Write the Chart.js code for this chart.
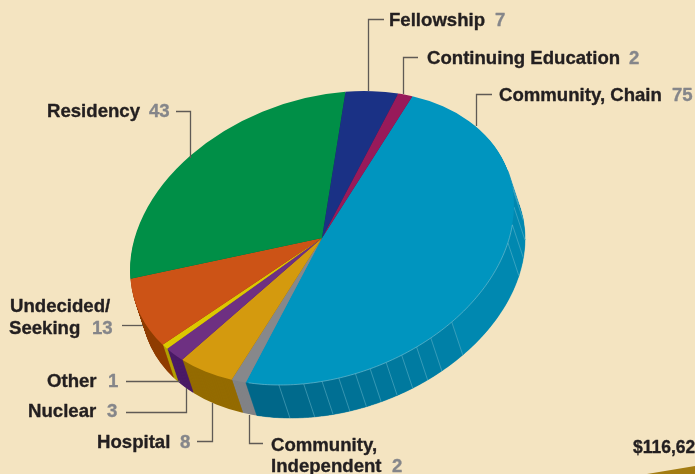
<!DOCTYPE html>
<html><head><meta charset="utf-8">
<style>html,body{margin:0;padding:0;background:#f4e4c1;overflow:hidden}canvas{display:block}</style>
<script src="https://cdn.jsdelivr.net/npm/chart.js@4"></script>
</head><body><canvas id="c" width="695" height="474"></canvas>
<script>
const categories = ["Community, Chain","Community, Independent","Hospital","Nuclear","Other","Undecided/Seeking","Residency","Fellowship","Continuing Education"];
const values = [75,2,8,3,1,13,43,7,2];
const topColors = ["#0095bf","#87888b","#d49a0e","#6e3082","#dcc800","#cc5316","#008f47","#1a3185","#981a5a"];
const sideColors = ["#0086ad","#818286","#946b00","#4a1a66","#b3a000","#8f3c00","#006030","#10205a","#6a103e"];
const startAngle = 22.6;
const facetAngles = [70,77,85,92,99,132,140,145,150,155,160,164.5,169.5,174.5,180,187.5,197.9];

// tilted-ellipse projection of the pie (px), and extrusion direction
const M = [191.1,-18.32,-18.32,145.85], CX = 322, CY = 238, EX = 11, EY = 33;

// annotation layout: [text, x, baseline]; values in grey
const darkText = [["Fellowship",389,26],["Continuing Education",427,64],["Community, Chain",499,101],["Residency",47,117],["Undecided/",10,312],["Seeking",9,334],["Other",47,387],["Nuclear",28,417],["Hospital",97,448],["Community,",271,451],["Independent",271,472]];
const greyText = [["7",495,26],["2",629,64],["75",672,101],["43",149,117],["13",92,334],["1",108,387],["3",107,417],["8",180,448],["2",392,472]];
const leaders = [
 [[368.5,91],[368.5,19.5],[384,19.5]],
 [[403.5,94],[403.5,57.5],[418,57.5]],
 [[476.5,126],[476.5,94.5],[492,94.5]],
 [[190.5,158],[190.5,111.5],[176,111.5]],
 [[143,325.5],[122,325.5]],
 [[180,381.5],[126,381.5]],
 [[186.5,388],[186.5,412.5],[126,412.5]],
 [[212.5,403],[212.5,441.5],[197,441.5]],
 [[249.5,415],[249.5,443.5],[263,443.5]]
];

function lerpColor(t){
  const a=[0,0x67,0x89], b=[0,0x88,0xb0];
  return `rgb(${a.map((v,i)=>Math.round(v+(b[i]-v)*t)).join(",")})`;
}

const piePlugin = {
  id:"tiltedPie",
  beforeDatasetsDraw(chart){
    const ctx = chart.ctx, meta = chart.getDatasetMeta(0), arcs = meta.data;
    const a0 = arcs[0], R = a0.outerRadius, ax = a0.x, ay = a0.y;
    const apply = (dx,dy)=>{
      const k = M.map(v=>v/R);
      ctx.setTransform(k[0],k[2],k[1],k[3],
        CX+dx-(k[0]*ax+k[1]*ay), CY+dy-(k[2]*ax+k[3]*ay));
    };
    const P = (deg,t)=>{
      const r = deg*Math.PI/180, u = Math.sin(r), v = -Math.cos(r);
      return [CX+M[0]*u+M[1]*v+EX*t, CY+M[2]*u+M[3]*v+EY*t];
    };
    ctx.save();
    // extruded side: the library's arcs redrawn in the darker colour, deepest first
    for(let d=EY;d>=1;d--){
      apply(EX*d/EY,d);
      arcs.forEach((arc,i)=>{
        const o = arc.options;
        arc.options = Object.assign({},o,{backgroundColor:sideColors[i]});
        arc.draw(ctx);
        arc.options = o;
      });
    }
    ctx.setTransform(1,0,0,1,0,0);
    // facets on the front of the largest slice
    const clipTo = (a,b)=>{
      ctx.beginPath();
      for(let g=a;g<=b;g+=0.5){const p=P(g,0);g===a?ctx.moveTo(p[0],p[1]):ctx.lineTo(p[0],p[1]);}
      let q=P(b,0);ctx.lineTo(q[0],q[1]);q=P(b,1);ctx.lineTo(q[0],q[1]);
      for(let g=b;g>=a;g-=0.5){const p=P(g,1);ctx.lineTo(p[0],p[1]);}
      q=P(a,1);ctx.lineTo(q[0],q[1]);ctx.closePath();
    };
    for(let i=0;i<facetAngles.length-1;i++){
      const a=facetAngles[i], b=facetAngles[i+1], mid=(a+b)/2;
      const t=Math.max(0,Math.min(1,(190-mid)/70));
      clipTo(a,b);
      ctx.fillStyle=ctx.strokeStyle=lerpColor(t);
      ctx.lineWidth=0.5;ctx.fill();ctx.stroke();
    }
    ctx.strokeStyle="rgba(125,195,212,0.55)";ctx.lineWidth=0.8;
    for(let i=0;i<facetAngles.length-1;i++){
      const p=P(facetAngles[i],0), q=P(facetAngles[i],1);
      ctx.beginPath();ctx.moveTo(p[0],p[1]);ctx.lineTo(q[0],q[1]);ctx.stroke();
    }
    // top surface
    apply(0,0);
    arcs.forEach(arc=>arc.draw(ctx));
    ctx.setTransform(1,0,0,1,0,0);
    // light rim along the front edge
    ctx.strokeStyle="rgba(125,195,212,0.75)";ctx.lineWidth=0.8;ctx.beginPath();
    for(let g=92;g<=197;g+=1){const p=P(g,0);g===92?ctx.moveTo(p[0],p[1]):ctx.lineTo(p[0],p[1]);}
    ctx.stroke();
    ctx.restore();
    return false;
  },
  afterDraw(chart){
    const ctx = chart.ctx;
    ctx.save();
    ctx.strokeStyle="#5f5a55";ctx.lineWidth=1.3;
    leaders.forEach(pts=>{
      ctx.beginPath();
      pts.forEach((p,i)=>i?ctx.lineTo(p[0],p[1]):ctx.moveTo(p[0],p[1]));
      ctx.stroke();
    });
    ctx.textBaseline="alphabetic";ctx.textAlign="left";
    ctx.lineJoin="round";ctx.lineWidth=0.35;
    ctx.font='bold 18.6px "Liberation Sans", Arial, sans-serif';
    ctx.fillStyle=ctx.strokeStyle="#231f20";
    darkText.forEach(t=>{ctx.fillText(t[0],t[1],t[2]);ctx.strokeText(t[0],t[1],t[2]);});
    ctx.fillStyle=ctx.strokeStyle="#85868a";
    greyText.forEach(t=>{ctx.fillText(t[0],t[1],t[2]);ctx.strokeText(t[0],t[1],t[2]);});
    ctx.font='bold 17.5px "Liberation Sans", Arial, sans-serif';
    ctx.fillStyle=ctx.strokeStyle="#231f20";
    ctx.fillText("$116,62",633,453);ctx.strokeText("$116,62",633,453);
    // corner of the neighbouring panel
    ctx.fillStyle="#a37c12";
    ctx.beginPath();ctx.moveTo(647,474);ctx.lineTo(695,466);ctx.lineTo(695,474);ctx.closePath();ctx.fill();
    ctx.restore();
  }
};

new Chart(document.getElementById("c"),{
  type:"pie",
  data:{labels:categories,datasets:[{data:values,backgroundColor:topColors,borderWidth:0}]},
  options:{
    responsive:false,animation:false,rotation:startAngle,events:[],
    layout:{padding:0},
    plugins:{legend:{display:false},tooltip:{enabled:false},title:{display:false}}
  },
  plugins:[piePlugin]
});
</script></body></html>
